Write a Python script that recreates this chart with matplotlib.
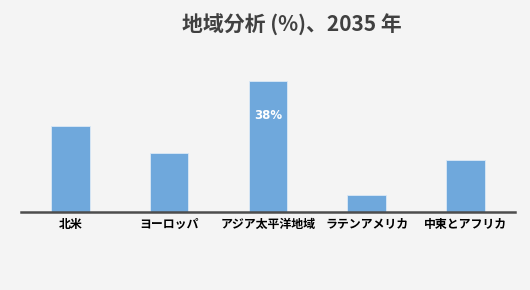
import matplotlib
matplotlib.use('Agg')
import matplotlib.pyplot as plt

plt.rcParams['font.family'] = ['Noto Sans CJK JP', 'DejaVu Sans']

regions = ['北米', 'ヨーロッパ', 'アジア太平洋地域', 'ラテンアメリカ', '中東とアフリカ']
shares = [25, 17, 38, 5, 15]
labelled = {2: '38%'}

bg = '#f4f4f4'
bar_color = '#6fa8dc'

fig = plt.figure(figsize=(5.3, 2.9), dpi=100, facecolor=bg)
ax = fig.add_axes([0.0396, 0.269, 0.932, 0.49])
ax.set_facecolor(bg)

x = list(range(len(regions)))
ax.bar(x, shares, width=0.39, color=bar_color, edgecolor='#dbe9f6', linewidth=0.6, zorder=2)

for i, txt in labelled.items():
    ax.text(i, shares[i] - 10, txt, ha='center', va='center', color='white',
            fontsize=8.5, fontweight='bold', family=['DejaVu Sans'])

ax.set_xlim(-0.5, 4.5)
ax.set_ylim(0, 41.2)
ax.set_yticks([])
ax.set_xticks(x)
ax.set_xticklabels(regions, fontsize=8.6, fontweight='bold', color='black')
ax.tick_params(axis='x', length=0, pad=4)

for side in ['top', 'right', 'left']:
    ax.spines[side].set_visible(False)
ax.spines['bottom'].set_color('#4d4d4d')
ax.spines['bottom'].set_linewidth(1.8)
ax.spines['bottom'].set_zorder(3)

fig.text(0.551, 0.913, '地域分析 (%)、2035 年', ha='center', va='center',
         fontsize=15, fontweight='bold', color='#404040')

fig.savefig('out.png', dpi=100, facecolor=bg)
